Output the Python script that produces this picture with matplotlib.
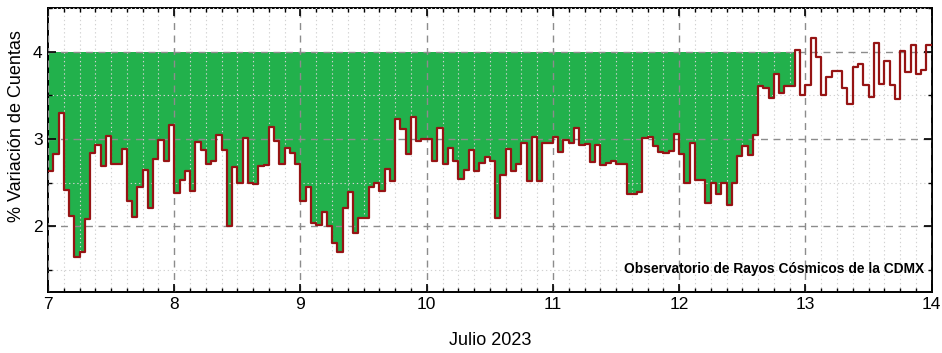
"""
Variacion horaria de cuentas de rayos cosmicos, 7-14 julio 2023.
"""

import numpy as np
import matplotlib
matplotlib.use('Agg')
import matplotlib.pyplot as plt
from matplotlib.ticker import MultipleLocator

plt.rcParams['font.family'] = ['Liberation Sans', 'DejaVu Sans']

# valores horarios (% variacion), del dia 7 00h al dia 13 23h
day_start = 7
day_end = 14
variacion = [
    2.63, 2.83, 3.30, 2.42, 2.12, 1.65, 1.71, 2.08, 2.84, 2.93, 2.69, 3.04,
    2.72, 2.72, 2.89, 2.29, 2.11, 2.45, 2.65, 2.21, 2.77, 2.99, 2.75, 3.16,
    2.38, 2.53, 2.63, 2.41, 2.97, 2.88, 2.72, 2.75, 3.05, 2.88, 2.01, 2.68,
    2.50, 3.01, 2.50, 2.49, 2.69, 2.70, 3.14, 2.98, 2.72, 2.90, 2.84, 2.71,
    2.29, 2.45, 2.04, 2.02, 2.17, 2.01, 1.81, 1.71, 2.21, 2.39, 1.92, 2.10,
    2.10, 2.45, 2.50, 2.41, 2.66, 2.52, 3.23, 3.12, 2.83, 3.25, 2.98, 3.00,
    3.00, 2.75, 3.13, 2.72, 2.90, 2.75, 2.54, 2.65, 2.87, 2.64, 2.73, 2.79,
    2.75, 2.10, 2.59, 2.89, 2.64, 2.72, 2.95, 2.52, 3.02, 2.52, 2.96, 2.96,
    3.02, 2.85, 2.99, 2.95, 3.13, 2.93, 2.94, 2.74, 2.93, 2.70, 2.73, 2.75,
    2.72, 2.71, 2.37, 2.37, 2.40, 3.01, 3.02, 2.92, 2.85, 2.84, 2.86, 3.06,
    2.83, 2.50, 2.96, 2.53, 2.53, 2.27, 2.50, 2.37, 2.50, 2.25, 2.50, 2.81,
    2.92, 2.82, 3.05, 3.61, 3.59, 3.47, 3.75, 3.53, 3.61, 3.61, 4.02, 3.51,
    3.62, 4.16, 3.94, 3.50, 3.71, 3.78, 3.78, 3.58, 3.40, 3.83, 3.86, 3.62,
    3.48, 4.10, 3.63, 3.90, 3.62, 3.46, 4.01, 3.77, 4.08, 3.74, 3.79, 4.08,
]
nivel_ref = 4.0
horas_relleno = 142   # el relleno verde llega hasta esta hora
titulo_obs = 'Observatorio de Rayos Cósmicos de la CDMX'
xlabel = 'Julio 2023'
ylabel = '% Variación de Cuentas'

v = np.array(variacion + [variacion[-1]])
t = day_start + np.arange(len(v)) / 24.0

fig = plt.figure(figsize=(9.42, 3.53), dpi=100)
ax = fig.add_axes([0.051, 0.173, 0.938, 0.804])

n = horas_relleno + 1
vf = np.minimum(v[:n], nivel_ref)
ax.fill_between(t[:n], vf, nivel_ref, step='post', color='#22b14c',
                linewidth=0, zorder=2)
ax.step(t, v, where='post', color='#961414', linewidth=1.6, zorder=3)

ax.set_xlim(day_start, day_end)
ax.set_ylim(1.25, 4.5)
ax.xaxis.set_major_locator(MultipleLocator(1))
ax.xaxis.set_minor_locator(MultipleLocator(1 / 8))
ax.yaxis.set_major_locator(MultipleLocator(1))
ax.yaxis.set_minor_locator(MultipleLocator(0.5))

# rejilla por encima del relleno y por debajo de la curva
ax.set_axisbelow(False)
ax.grid(which='major', color='#8c8c8c', linestyle=(0, (5, 4)), linewidth=1.0)
ax.grid(which='minor', color='#d2d2d2', linestyle=(0, (1.2, 2.5)), linewidth=0.8)

ax.tick_params(which='both', direction='in', top=True, right=True, labelsize=12.5)
ax.tick_params(which='major', length=6, width=1.2, pad=4)
ax.tick_params(which='minor', length=3, width=1.0)
for s in ax.spines.values():
    s.set_linewidth(1.4)

ax.set_xlabel(xlabel, fontsize=13, labelpad=14)
ax.set_ylabel(ylabel, fontsize=13)
ax.yaxis.set_label_coords(-0.026, 0.585)
ax.text(0.992, 0.055, titulo_obs, transform=ax.transAxes, ha='right', va='bottom',
        fontsize=9.9, fontweight='bold', zorder=5)

fig.savefig('out.png', dpi=100)
